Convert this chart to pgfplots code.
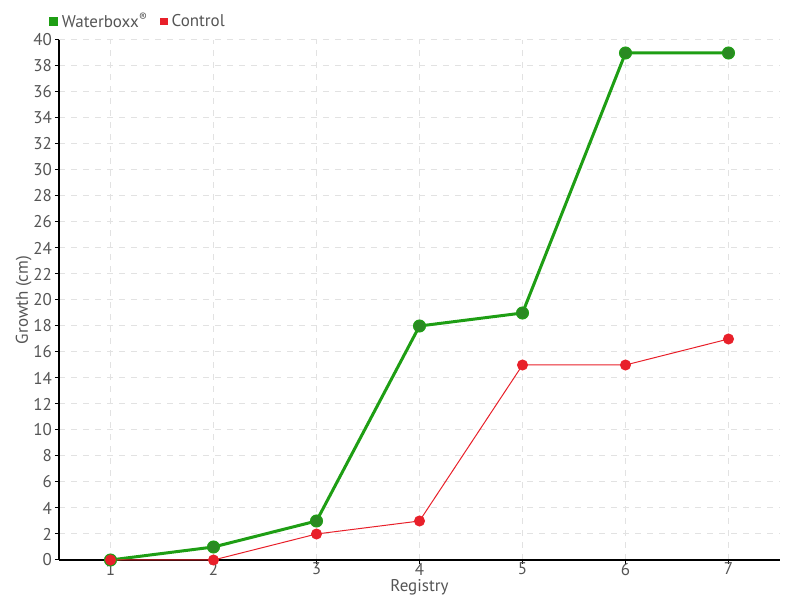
\documentclass[border=0pt]{standalone}
\usepackage{fontspec}
\setmainfont{PT Sans}
\usepackage{pgfplots}
\pgfplotsset{compat=1.18}
\definecolor{wgreen}{HTML}{1E9E14}
\definecolor{wgreendark}{HTML}{2A8A22}
\definecolor{cred}{HTML}{E8202A}
\definecolor{txt}{HTML}{555555}
\definecolor{gridc}{HTML}{E2E2E2}
\begin{document}
\begin{tikzpicture}
\useasboundingbox (0,0) rectangle (400pt,300pt);
\begin{axis}[
    at={(29.5pt,20pt)}, anchor=south west,
    scale only axis, width=360.5pt, height=260pt,
    xmin=0.5, xmax=7.5, ymin=0, ymax=40,
    axis lines*=left,
    axis line style={black, line width=0.6pt, -},
    xtick={1,...,7}, ytick={0,2,...,40},
    tick align=outside, major tick length=2pt,
    tick style={black, line width=0.5pt},
    grid=major, major grid style={gridc, dashed, line width=0.5pt},
    font=\fontsize{8.5}{10}\selectfont\color{txt},
    /pgf/number format/assume math mode=true,
    ticklabel style={font=\fontsize{8.5}{10}\selectfont, text=txt},
    xticklabel style={yshift=4pt},
    yticklabel style={xshift=2pt},
    xlabel={Registry}, ylabel={Growth (cm)},
    xlabel style={yshift=5pt, text=txt},
    ylabel style={yshift=-6pt, text=txt},
    legend style={draw=none, fill=none, at={(-0.015,1.035)}, anchor=west,
      font=\fontsize{8.5}{10}\selectfont, text=txt, inner sep=0pt,
      /tikz/every even column/.append style={column sep=4pt}},
    legend columns=2,
    legend image code/.code={\fill[#1] (0pt,-1.6pt) rectangle (3.2pt,1.6pt);},
    clip=false,
]
\addplot[wgreen, line width=1.5pt, mark=*, mark size=3pt,
  mark options={fill=wgreendark, draw=wgreen, line width=0.5pt}]
  coordinates {(1,0) (2,1) (3,3) (4,18) (5,19) (6,39) (7,39)};
\addlegendentry{Waterboxx\textsuperscript{\textregistered}}
\addplot[cred, line width=0.5pt, mark=*, mark size=2.5pt,
  mark options={fill=cred, draw=cred}]
  coordinates {(1,0) (2,0) (3,2) (4,3) (5,15) (6,15) (7,17)};
\addlegendentry{Control}
\end{axis}
\end{tikzpicture}
\end{document}
